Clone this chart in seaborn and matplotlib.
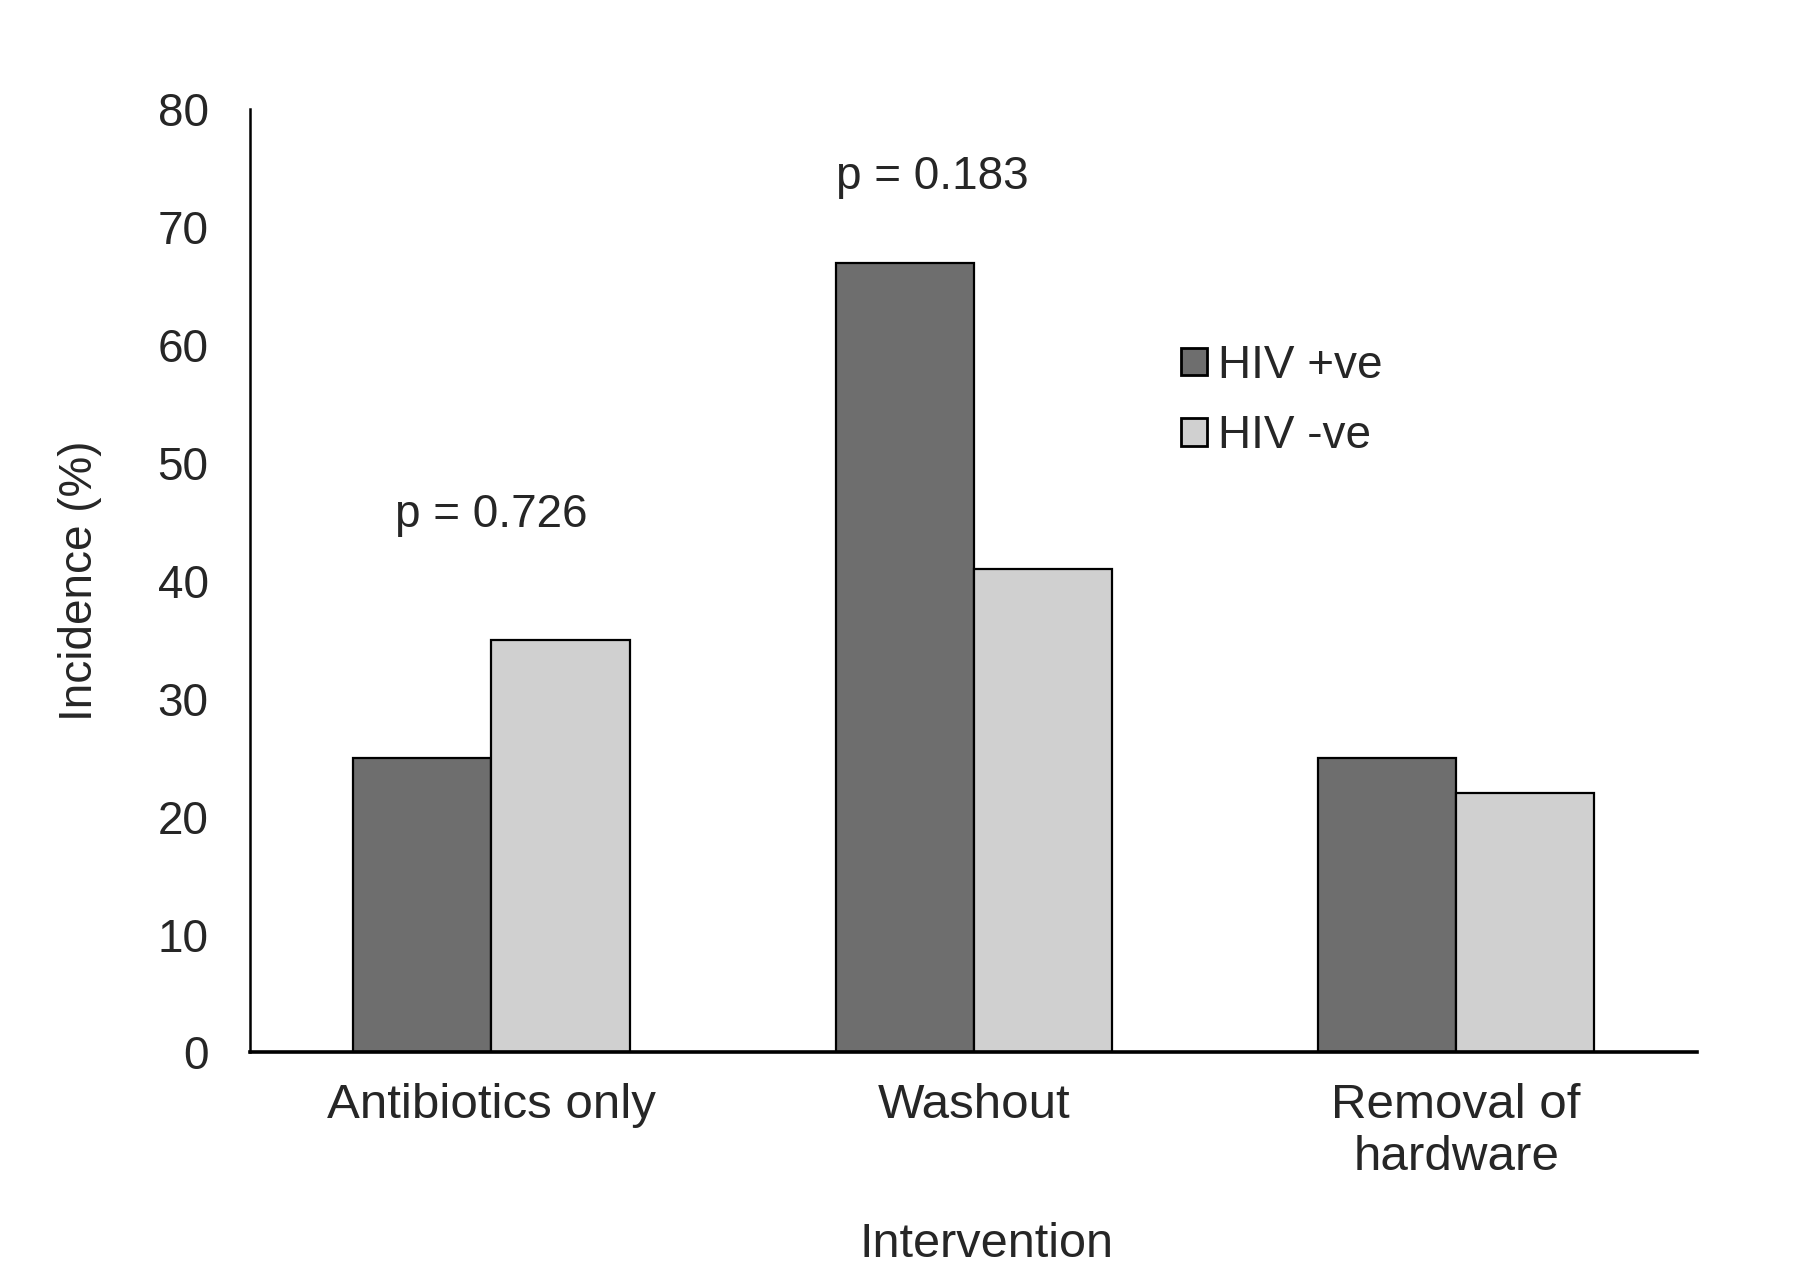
import matplotlib
matplotlib.use("Agg")
import matplotlib.pyplot as plt
import numpy as np
import pandas as pd
import seaborn as sns

# data
interventions = ["Antibiotics only", "Washout", "Removal of\nhardware"]
hiv_pos = [25, 67, 25]
hiv_neg = [35, 41, 22]
groups = ["HIV +ve", "HIV -ve"]
p_values = ["p = 0.726", "p = 0.183"]

df = pd.DataFrame({
    "Intervention": interventions * 2,
    "Incidence": hiv_pos + hiv_neg,
    "Group": [groups[0]] * 3 + [groups[1]] * 3,
})

sns.set_style("white")
plt.rcParams['font.family'] = ['Liberation Sans', 'DejaVu Sans']

fig = plt.figure(figsize=(18, 12.71), dpi=100)
ax = fig.add_axes([0.139, 0.172, 0.804, 0.742])

sns.barplot(data=df, x="Intervention", y="Incidence", hue="Group",
            palette=["#6e6e6e", "#d0d0d0"], width=0.573, gap=0,
            edgecolor="black", linewidth=1.6, ax=ax)

ax.set_xlim(-0.5, 2.5)
ax.set_ylim(0, 80)
ax.set_yticks(np.arange(0, 81, 10))

sns.despine(ax=ax)
ax.spines['left'].set_linewidth(1.8)
ax.spines['bottom'].set_linewidth(2.6)
ax.spines['left'].set_color('black')
ax.spines['bottom'].set_color('black')

ax.tick_params(axis='y', length=0, pad=30, labelsize=33)
ax.tick_params(axis='x', length=0, pad=22, labelsize=35.5)
ax.set_ylabel("Incidence (%)", fontsize=33, labelpad=40)
ax.set_xlabel("Intervention", fontsize=35)
ax.xaxis.set_label_coords(0.509, -0.18)

# p value annotations
ax.text(0.0, 45.6, p_values[0], ha='center', va='center', fontsize=33)
ax.text(0.913, 74.3, p_values[1], ha='center', va='center', fontsize=33)

leg = ax.legend(loc='upper left', bbox_to_anchor=(0.615, 0.795), frameon=False,
                fontsize=33, handlelength=0.55, handleheight=0.55,
                handletextpad=0.25, labelspacing=0.58)
for h in leg.legend_handles:
    h.set_edgecolor('black')
    h.set_linewidth(2)

fig.savefig("out.png", dpi=100)
